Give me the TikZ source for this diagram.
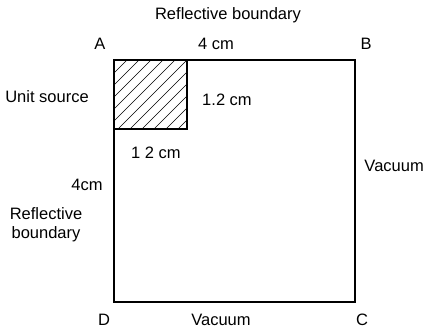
\documentclass[tikz,border=0pt]{standalone}
\usepackage{fontspec}
\setmainfont{Liberation Sans}
\usetikzlibrary{positioning,calc}

\begin{document}
\begin{tikzpicture}[x=1pt, y=1pt, font=\fontsize{16.5}{19}\selectfont,
    lbl/.style={inner sep=0pt},
    edge/.style={line width=1.5pt}]
\useasboundingbox (0,0) rectangle (426,333);
    % Corners of the 4 cm square.
    \coordinate (A) at (114,273);
    \coordinate (B) at (355,273);
    \coordinate (C) at (355,31);
    \coordinate (D) at (114,31);
    \coordinate (srcBR) at (187,204);
    % Hatched unit source.
    \begin{scope}
        \clip (A) rectangle (srcBR);
        \foreach \s in {-80,-68,...,80}{
            \draw[line width=0.7pt] (114+\s,204) -- +(80,80);
        }
    \end{scope}
    \draw[edge] (A) rectangle (srcBR);
    \draw[edge] (A) -- (B) -- (C) -- (D) -- cycle;
    % Corner letters.
    \node[lbl] (labA) at (100,289) {A};
    \node[lbl] (labB) at (366,289) {B};
    \node[lbl] (labC) at (362,13) {C};
    \node[lbl] (labD) at (104,13) {D};
    % Boundary and size labels.
    \node[lbl] (topRefl) at (228,318) {Reflective boundary};
    \node[lbl] (topLen) at (216,289) {4 cm};
    \node[lbl] (srcName) at (47,236) {Unit source};
    \node[lbl] (srcH) at (227,233) {1.2 cm};
    \node[lbl] (srcW) at (156,180) {1 2 cm};
    \node[lbl, anchor=east] (rightVac) at (424,167) {Vacuum};
    \node[lbl] (leftLen) at (87,148) {4cm};
    \node[lbl, align=center] (leftRefl) at (46,108) {Reflective\\boundary};
    \node[lbl] (botVac) at (221,13) {Vacuum};
\end{tikzpicture}
\end{document}
